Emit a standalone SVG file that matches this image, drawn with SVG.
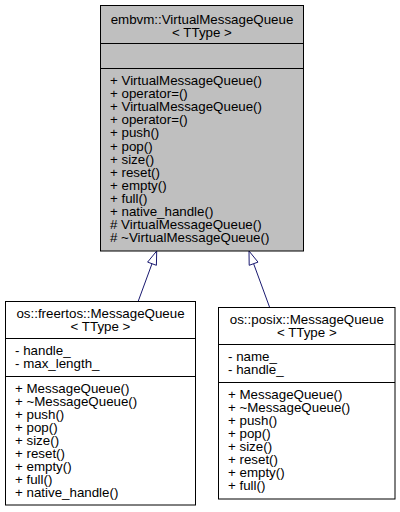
<svg xmlns="http://www.w3.org/2000/svg" width="400" height="512" viewBox="0 0 400 512">
<style>
text{font-family:"Liberation Sans",Arial,Helvetica,sans-serif;font-size:13.33px;fill:#000}
.c{text-anchor:middle}
.box{stroke:#000;stroke-width:1}
.sep{stroke:#000;stroke-width:1}
.edge{stroke:#191970;stroke-width:1;fill:none}
.head{stroke:#191970;stroke-width:1;fill:#fff}
</style>
<rect width="400" height="512" fill="#fff"/>
<g id="connectors">
<path class="edge" d="M138.3,301 L152,263.7"/>
<polygon class="head" points="156.7,251 147.6,262.1 156.4,265.3"/>
<path class="edge" d="M269.5,307 L253.6,263.7"/>
<polygon class="head" points="249,251 249.2,265.3 258,262.1"/>
</g>
<g id="node-VirtualMessageQueue">
<rect class="box" x="100.5" y="5.5" width="203" height="245.5" fill="#bfbfbf"/>
<line class="sep" x1="100.5" y1="43.5" x2="303.5" y2="43.5"/>
<line class="sep" x1="100.5" y1="68.5" x2="303.5" y2="68.5"/>
<text class="c" x="202" y="24">embvm::VirtualMessageQueue</text>
<text class="c" x="202" y="37">&lt; TType &gt;</text>
<text x="110" y="85">+ VirtualMessageQueue()</text>
<text x="110" y="98.1">+ operator=()</text>
<text x="110" y="111.2">+ VirtualMessageQueue()</text>
<text x="110" y="124.3">+ operator=()</text>
<text x="110" y="137.4">+ push()</text>
<text x="110" y="150.5">+ pop()</text>
<text x="110" y="163.6">+ size()</text>
<text x="110" y="176.7">+ reset()</text>
<text x="110" y="189.8">+ empty()</text>
<text x="110" y="202.9">+ full()</text>
<text x="110" y="216">+ native_handle()</text>
<text x="110" y="229.1"># VirtualMessageQueue()</text>
<text x="110" y="242.2"># ~VirtualMessageQueue()</text>
</g>
<g id="node-freertos-MessageQueue">
<rect class="box" x="5.5" y="301.5" width="190" height="203.5" fill="#fff"/>
<line class="sep" x1="5.5" y1="338.5" x2="195.5" y2="338.5"/>
<line class="sep" x1="5.5" y1="376.5" x2="195.5" y2="376.5"/>
<text class="c" x="100.5" y="318">os::freertos::MessageQueue</text>
<text class="c" x="100.5" y="331">&lt; TType &gt;</text>
<text x="15" y="355">- handle_</text>
<text x="15" y="368">- max_length_</text>
<text x="15" y="393">+ MessageQueue()</text>
<text x="15" y="406">+ ~MessageQueue()</text>
<text x="15" y="419">+ push()</text>
<text x="15" y="432">+ pop()</text>
<text x="15" y="445">+ size()</text>
<text x="15" y="458">+ reset()</text>
<text x="15" y="471">+ empty()</text>
<text x="15" y="484">+ full()</text>
<text x="15" y="497">+ native_handle()</text>
</g>
<g id="node-posix-MessageQueue">
<rect class="box" x="218.5" y="307.5" width="176.5" height="191.5" fill="#fff"/>
<line class="sep" x1="218.5" y1="344.5" x2="395" y2="344.5"/>
<line class="sep" x1="218.5" y1="382.5" x2="395" y2="382.5"/>
<text class="c" x="306.8" y="324">os::posix::MessageQueue</text>
<text class="c" x="306.8" y="337">&lt; TType &gt;</text>
<text x="228" y="361">- name_</text>
<text x="228" y="374">- handle_</text>
<text x="228" y="399">+ MessageQueue()</text>
<text x="228" y="412">+ ~MessageQueue()</text>
<text x="228" y="425">+ push()</text>
<text x="228" y="438">+ pop()</text>
<text x="228" y="451">+ size()</text>
<text x="228" y="464">+ reset()</text>
<text x="228" y="477">+ empty()</text>
<text x="228" y="490">+ full()</text>
</g>
</svg>
